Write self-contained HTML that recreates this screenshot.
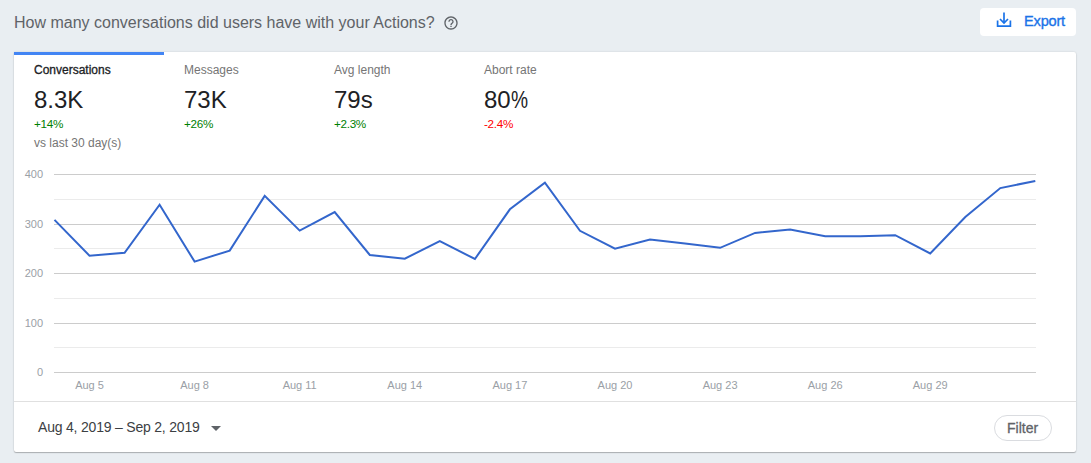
<!DOCTYPE html>
<html>
<head>
<meta charset="utf-8">
<style>
html,body{margin:0;padding:0;}
body{width:1091px;height:463px;background:#e9eef2;font-family:"Liberation Sans",sans-serif;position:relative;overflow:hidden;}
.abs{position:absolute;white-space:nowrap;}
#title{left:14px;top:13px;font-size:16px;line-height:20px;color:#5f6368;}
#help{left:443px;top:15px;width:16px;height:16px;}
#export{left:980px;top:8px;width:96px;height:28px;background:#fff;border-radius:4px;}
#exportTxt{left:1024px;top:11.5px;font-size:14.6px;line-height:18px;letter-spacing:-0.2px;color:#1a73e8;-webkit-text-stroke:0.35px #1a73e8;}
#card{left:14px;top:52px;width:1062px;height:400px;background:#fff;border-radius:0 2px 2px 2px;box-shadow:0 1px 1px rgba(0,0,0,.24),0 0 2px rgba(0,0,0,.15);}
#tabbar{left:14px;top:52px;width:150px;height:3px;background:#4285f4;}
.tlabel{font-size:12px;line-height:14px;color:#757575;}
.tval{font-size:24px;line-height:28px;color:#202124;}
.tdelta{font-size:11.7px;line-height:14px;letter-spacing:-0.3px;}
.up{color:#008000;}
.down{color:#ff0000;}
#vs{left:34px;top:135.7px;font-size:12px;line-height:14px;color:#757575;}
#date{left:38px;top:418.5px;font-size:14px;line-height:16px;letter-spacing:-0.2px;color:#3c4043;}
#filter{left:994px;top:415px;width:56px;height:24px;border:1px solid #dadce0;border-radius:13px;background:#fff;}
#filterTxt{left:1007px;top:420px;font-size:14px;line-height:16px;color:#5f6368;-webkit-text-stroke:0.3px #5f6368;}
#sep{left:14px;top:401px;width:1062px;height:1px;background:#e0e0e0;}
.ylab{font-size:11px;line-height:12px;color:#9aa0a6;text-align:right;width:30px;left:13px;}
.xlab{font-size:11px;line-height:12px;color:#9aa0a6;text-align:center;width:60px;top:379px;}
</style>
</head>
<body>
<div class="abs" id="title">How many conversations did users have with your Actions?</div>
<svg class="abs" id="help" viewBox="0 0 24 24"><path fill="#5f6368" d="M11 18h2v-2h-2v2zm1-16C6.48 2 2 6.48 2 12s4.48 10 10 10 10-4.48 10-10S17.52 2 12 2zm0 18c-4.41 0-8-3.59-8-8s3.59-8 8-8 8 3.590 8 8-3.59 8-8 8zm0-14c-2.21 0-4 1.79-4 4h2c0-1.1.9-2 2-2s2 .9 2 2c0 2-3 1.75-3 5h2c0-2.25 3-2.5 3-5 0-2.21-1.79-4-4-4z"/></svg>
<div class="abs" id="export"></div>
<svg class="abs" style="left:995px;top:11px;width:18px;height:18px" viewBox="0 0 18 18"><g fill="none" stroke="#1a73e8" stroke-width="1.7"><path d="M2.6 9.5v5.6h12.8V9.5"/><path d="M9 1.5v10"/><path d="M5 8l4 4 4-4"/></g></svg>
<div class="abs" id="exportTxt">Export</div>

<div class="abs" id="card"></div>
<div class="abs" id="tabbar"></div>

<div class="abs tlabel" style="left:34px;top:63px;color:#202124;-webkit-text-stroke:0.3px #202124">Conversations</div>
<div class="abs tval" style="left:34px;top:86px">8.3K</div>
<div class="abs tdelta up" style="left:34px;top:117px">+14%</div>
<div class="abs" id="vs">vs last 30 day(s)</div>

<div class="abs tlabel" style="left:184px;top:63px">Messages</div>
<div class="abs tval" style="left:184px;top:86px">73K</div>
<div class="abs tdelta up" style="left:184px;top:117px">+26%</div>

<div class="abs tlabel" style="left:334px;top:63px">Avg length</div>
<div class="abs tval" style="left:334px;top:86px">79s</div>
<div class="abs tdelta up" style="left:334px;top:117px">+2.3%</div>

<div class="abs tlabel" style="left:484px;top:63px">Abort rate</div>
<div class="abs tval" style="left:484px;top:86px">80<span style="display:inline-block;transform:scaleX(.8);transform-origin:0 0">%</span></div>
<div class="abs tdelta down" style="left:484px;top:117px">-2.4%</div>

<svg class="abs" style="left:0;top:0" width="1091" height="463">
<g stroke-width="1" shape-rendering="crispEdges">
<line x1="54" x2="1036" y1="174.5" y2="174.5" stroke="#cccccc"/>
<line x1="54" x2="1036" y1="199.5" y2="199.5" stroke="#ebebeb"/>
<line x1="54" x2="1036" y1="224.5" y2="224.5" stroke="#cccccc"/>
<line x1="54" x2="1036" y1="248.5" y2="248.5" stroke="#ebebeb"/>
<line x1="54" x2="1036" y1="273.5" y2="273.5" stroke="#cccccc"/>
<line x1="54" x2="1036" y1="298.5" y2="298.5" stroke="#ebebeb"/>
<line x1="54" x2="1036" y1="323.5" y2="323.5" stroke="#cccccc"/>
<line x1="54" x2="1036" y1="347.5" y2="347.5" stroke="#ebebeb"/>
<line x1="54" x2="1036" y1="372.5" y2="372.5" stroke="#cccccc"/>
</g>
<polyline fill="none" stroke="#3366cc" stroke-width="2" stroke-linejoin="miter" points="54.5,219.9 89.5,255.7 124.6,252.8 159.6,204.7 194.6,261.6 229.7,250.6 264.7,195.9 299.7,230.6 334.7,212.1 369.8,255.0 404.8,258.7 439.8,241.1 474.9,259.0 509.9,209.3 544.9,182.6 580.0,230.8 615.0,248.6 650.0,239.5 685.0,243.5 720.1,247.8 755.1,232.9 790.1,229.4 825.2,236.2 860.2,236.2 895.2,235.2 930.2,253.4 965.3,217.1 1000.3,188.1 1035.3,180.9"/>
</svg>

<div class="abs ylab" style="top:168px">400</div>
<div class="abs ylab" style="top:218px">300</div>
<div class="abs ylab" style="top:267px">200</div>
<div class="abs ylab" style="top:317px">100</div>
<div class="abs ylab" style="top:366px">0</div>

<div class="abs xlab" style="left:59.5px">Aug 5</div>
<div class="abs xlab" style="left:164.6px">Aug 8</div>
<div class="abs xlab" style="left:269.7px">Aug 11</div>
<div class="abs xlab" style="left:374.8px">Aug 14</div>
<div class="abs xlab" style="left:479.9px">Aug 17</div>
<div class="abs xlab" style="left:585px">Aug 20</div>
<div class="abs xlab" style="left:690.1px">Aug 23</div>
<div class="abs xlab" style="left:795.2px">Aug 26</div>
<div class="abs xlab" style="left:900.2px">Aug 29</div>

<div class="abs" id="sep"></div>
<div class="abs" id="date">Aug 4, 2019 &ndash; Sep 2, 2019</div>
<svg class="abs" style="left:211px;top:426px;width:10px;height:5px" viewBox="0 0 10 5"><path d="M0 0h10L5 5z" fill="#5f6368"/></svg>
<div class="abs" id="filter"></div>
<div class="abs" id="filterTxt">Filter</div>
</body>
</html>
